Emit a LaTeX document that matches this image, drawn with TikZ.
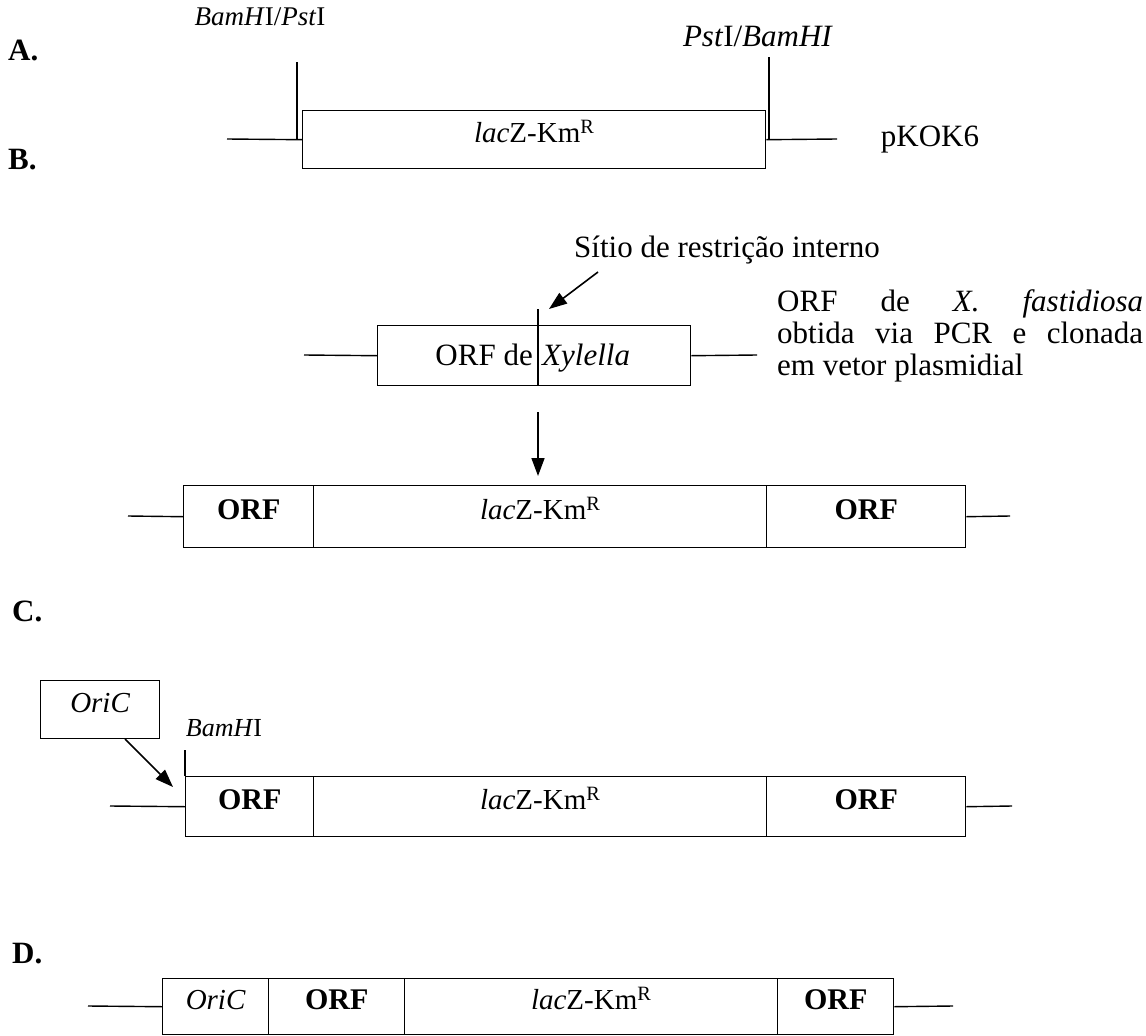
\documentclass[tikz,border=0pt]{standalone}
\usepackage{fontspec}
\setmainfont{Liberation Serif}
\usetikzlibrary{arrows.meta}
\begin{document}
\begin{tikzpicture}[x=1pt,y=-1pt,
  seg/.style={draw, line width=1.4pt, inner sep=0pt, anchor=north west,
    text height=0.68em, text depth=0.2em, font=\fontsize{29}{29}\selectfont},
  orf/.style={seg, font=\fontsize{30}{30}\selectfont\bfseries},
  wire/.style={line width=1.4pt},
  lbl/.style={font=\fontsize{31}{31}\selectfont\bfseries, anchor=west, inner sep=0pt},
  enz/.style={font=\fontsize{27}{27}\selectfont, inner sep=0pt},
  txt/.style={font=\fontsize{31}{31}\selectfont, inner sep=0pt},
  arr/.style={line width=1.6pt, -{Triangle[length=18pt,width=13pt]}}
]
\useasboundingbox (0,0) rectangle (1146,1036);
\newcommand{\lacz}{\textit{lac}Z-Km\textsuperscript{R}}

% ---------- A ----------
\node[lbl] (labA) at (8,50) {A.};
\node[enz] (enzA1) at (260,17) {\textit{BamH}I/\textit{Pst}I};
\node[enz, font=\fontsize{31}{31}\selectfont] (enzA2) at (758,36) {\textit{Pst}I/\textit{BamHI}};
\node[seg, minimum width=463pt, minimum height=58pt] (Abox) at (302,110) {\lacz};
\coordinate (tA1top) at (297,62);
\coordinate (tA1bot) at (297,139);
\coordinate (tA2top) at (769,57);
\coordinate (tA2bot) at (769,139);
\coordinate (wA1) at (227,139);
\coordinate (wA2) at (837,139);
\draw[wire] (tA1top) -- (tA1bot);
\draw[wire] (tA2top) -- (tA2bot);
\draw[wire] (wA1) -- (Abox.west);
\draw[wire] (Abox.east) -- (wA2);
\node[txt] (pkok) at (930,140) {pKOK6};

% ---------- B ----------
\node[lbl] (labB) at (8,160) {B.};
\node[txt] (sitio) at (727,250) {Sítio de restrição interno};
\node[seg, minimum width=313pt, minimum height=60pt] (Bbox) at (377,325) {};
\coordinate (dvtop) at (538,309);
\coordinate (dvbot) at (538,385);
\draw[wire] (dvtop) -- (dvbot);
\node[txt, anchor=base east] (orfde) at (533,365) {ORF de};
\node[txt, anchor=base west] (xyl) at (542,365) {\textit{Xylella}};
\coordinate (sa) at (598,272);
\coordinate (sb) at (549,309);
\draw[arr] (sa) -- (sb);
\coordinate (wB1) at (304,355);
\coordinate (wB2) at (757,355);
\draw[wire] (wB1) -- (Bbox.west);
\draw[wire] (Bbox.east) -- (wB2);
\node[anchor=north west, inner sep=0pt, text width=366pt, align=justify,
  font=\fontsize{31}{32}\selectfont] (desc) at (777,289)
  {ORF de \textit{X. fastidiosa}\linebreak obtida via PCR e clonada\linebreak em vetor plasmidial};

\coordinate (dtop) at (538,412);
\coordinate (dbot) at (538,476);
\draw[arr] (dtop) -- (dbot);

\node[orf, minimum width=130pt, minimum height=62pt] (r1) at (183,485) {ORF};
\node[seg, minimum width=453pt, minimum height=62pt] (r2) at (313,485) {\lacz};
\node[orf, minimum width=199pt, minimum height=62pt] (r3) at (766,485) {ORF};
\coordinate (wR1) at (128,516);
\coordinate (wR2) at (1010,516);
\draw[wire] (wR1) -- (r1.west);
\draw[wire] (r3.east) -- (wR2);

% ---------- C ----------
\node[lbl] (labC) at (12,611) {C.};
\node[seg, minimum width=119pt, minimum height=58pt] (ori) at (40,680) {\textit{OriC}};
\node[enz, font=\fontsize{26}{26}\selectfont] (bam) at (224,728) {\textit{BamH}I};
\node[orf, minimum width=128pt, minimum height=60pt] (c1) at (185,776) {ORF};
\node[seg, minimum width=453pt, minimum height=60pt] (c2) at (313,776) {\lacz};
\node[orf, minimum width=199pt, minimum height=60pt] (c3) at (766,776) {ORF};
\coordinate (ctick) at (185,750);
\draw[wire] (ctick) -- (c1.north west);
\coordinate (wC1) at (110,806);
\coordinate (wC2) at (1012,806);
\draw[wire] (wC1) -- (c1.west);
\draw[wire] (c3.east) -- (wC2);
\coordinate (oa) at (125,739);
\coordinate (ob) at (173,787);
\draw[arr] (oa) -- (ob);

% ---------- D ----------
\node[lbl] (labD) at (12,954) {D.};
\node[seg, minimum width=106pt, minimum height=56pt] (d1) at (162,978) {\textit{OriC}};
\node[orf, minimum width=136pt, minimum height=56pt] (d2) at (268,978) {ORF};
\node[seg, minimum width=373pt, minimum height=56pt] (d3) at (404,978) {\lacz};
\node[orf, minimum width=116pt, minimum height=56pt] (d4) at (777,978) {ORF};
\coordinate (wD1) at (88,1006);
\coordinate (wD2) at (953,1006);
\draw[wire] (wD1) -- (d1.west);
\draw[wire] (d4.east) -- (wD2);
\end{tikzpicture}
\end{document}
